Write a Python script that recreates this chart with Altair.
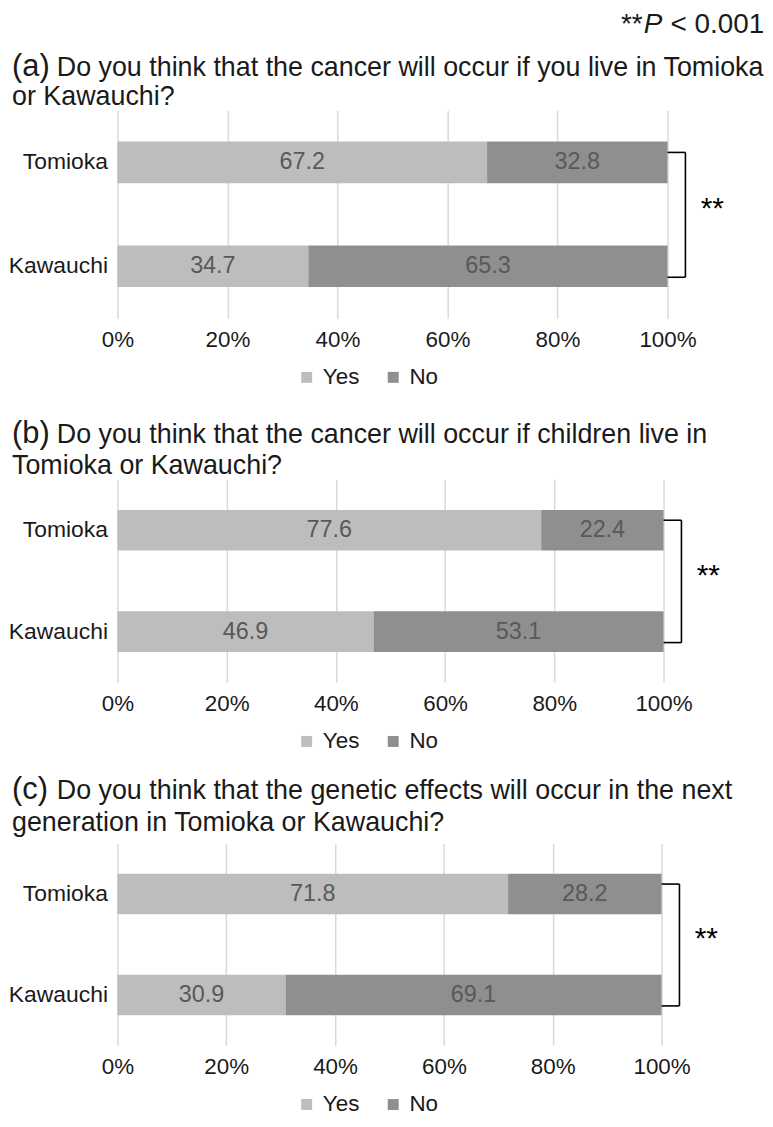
import altair as alt
import pandas as pd

# ---------------- data ----------------
places = ["Tomioka", "Kawauchi"]
answers = ["Yes", "No"]

yes_a = [67.2, 34.7]
no_a = [32.8, 65.3]
yes_b = [77.6, 46.9]
no_b = [22.4, 53.1]
yes_c = [71.8, 30.9]
no_c = [28.2, 69.1]

letters = ["(a)", "(b)", "(c)"]
q_a = ["Do you think that the cancer will occur if you live in Tomioka", "or Kawauchi?"]
q_b = ["Do you think that the cancer will occur if children live in", "Tomioka or Kawauchi?"]
q_c = ["Do you think that the genetic effects will occur in the next",
       "generation in Tomioka or Kawauchi?"]

x_ticks = [0, 20, 40, 60, 80, 100]
sig_mark = "**"
note_parts = ["**", "P", "< 0.001"]

# ---------------- style ----------------
FONT = "Liberation Sans"
YES_C = "#bdbdbd"
NO_C = "#8f8f8f"
LABEL_C = "#595959"
TEXT_C = "#1a1a1a"
GRID_C = "#d9d9d9"
P_IN, P_OUT = 0.6, 0.3


def text_layer(txt, x, y, size, align="left", style="normal", color=TEXT_C, baseline="alphabetic"):
    return alt.Chart(pd.DataFrame({"t": [txt]})).mark_text(
        align=align, baseline=baseline, fontSize=size, font=FONT, fontStyle=style, color=color
    ).encode(text="t:N", x=alt.value(x), y=alt.value(y))


def panel(letter, lines, yes, no, W, H, ty1, ty2, header=False):
    rows = []
    for i, p in enumerate(places):
        rows.append({"place": p, "answer": "Yes", "value": yes[i], "ord": 0})
        rows.append({"place": p, "answer": "No", "value": no[i], "ord": 1})
    df = pd.DataFrame(rows)
    base = alt.Chart(df)

    y_enc = alt.Y(
        "place:N", sort=places, title=None,
        scale=alt.Scale(paddingInner=P_IN, paddingOuter=P_OUT),
        axis=alt.Axis(domain=False, ticks=False, labelFontSize=23, labelPadding=10,
                      labelColor=TEXT_C, labelFont=FONT),
    )
    bars = base.mark_bar().encode(
        x=alt.X("value:Q", stack="zero", title=None,
                scale=alt.Scale(domain=[0, 100], nice=False),
                axis=alt.Axis(values=x_ticks, labelExpr="datum.value + '%'", domain=False,
                              ticks=False, grid=True, gridColor=GRID_C, gridWidth=1.5,
                              labelFlush=False, labelFontSize=22.5, labelPadding=10,
                              labelColor=TEXT_C, labelFont=FONT)),
        y=y_enc,
        color=alt.Color("answer:N", scale=alt.Scale(domain=answers, range=[YES_C, NO_C]),
                        legend=alt.Legend(orient="none", legendX=179, legendY=H + 48,
                                          direction="horizontal", title=None,
                                          symbolType="square", symbolSize=121,
                                          symbolStrokeWidth=0, labelFontSize=22.5,
                                          labelFont=FONT, labelColor=TEXT_C,
                                          labelOffset=5, columnPadding=22, padding=0)),
        order=alt.Order("ord:Q"),
    )
    labels = base.transform_stack(
        stack="value", groupby=["place"], as_=["v0", "v1"],
        sort=[alt.SortField("ord", order="ascending")],
    ).transform_calculate(mid="(datum.v0 + datum.v1) / 2").mark_text(
        fontSize=23.5, color=LABEL_C, font=FONT, baseline="middle"
    ).encode(
        x=alt.X("mid:Q", title=None),
        y=alt.Y("place:N", sort=places, title=None),
        text=alt.Text("value:Q", format=".1f"),
    )

    # significance bracket
    ytop = H / 4 - 10
    ybot = 3 * H / 4 + 11
    bdf = pd.DataFrame({"k": [0]})
    b1 = alt.Chart(bdf).mark_rule(color="black", strokeWidth=1.6).encode(
        x=alt.value(W), x2=alt.value(W + 18), y=alt.value(ytop))
    b2 = alt.Chart(bdf).mark_rule(color="black", strokeWidth=1.6).encode(
        x=alt.value(W), x2=alt.value(W + 18), y=alt.value(ybot))
    b3 = alt.Chart(bdf).mark_rule(color="black", strokeWidth=1.6).encode(
        x=alt.value(W + 18), y=alt.value(ytop), y2=alt.value(ybot))
    star = text_layer(sig_mark, W + 45, H / 2 + 4, 30, align="center", color="black")

    t0 = text_layer(letter, -106, ty1, 31)
    t1 = text_layer(lines[0], -61, ty1, 27)
    t2 = text_layer(lines[1], -106, ty2, 27)

    layers = [bars, labels, b1, b2, b3, star, t0, t1, t2]
    if header:
        layers += [
            text_layer(note_parts[0], 528, -78, 28, align="right"),
            text_layer(note_parts[1], 529, -78, 28, style="italic"),
            text_layer(note_parts[2], 556, -78, 28),
        ]
    return alt.layer(*layers).properties(width=W, height=H)


pa = panel(letters[0], q_a, yes_a, no_a, 553, 209, -35, -5, header=True)
pb = panel(letters[1], q_b, yes_b, no_b, 549, 204, -37, -5)
pc = panel(letters[2], q_c, yes_c, no_c, 547, 203, -45, -13)

chart = alt.vconcat(pa, pb, pc, spacing=162, bounds="flush").resolve_scale(
    color="independent"
).resolve_legend(color="independent").properties(
    padding=0
).configure(font=FONT).configure_view(stroke=None)

chart.save("out.html", embed_options={"renderer": "svg", "actions": False})
